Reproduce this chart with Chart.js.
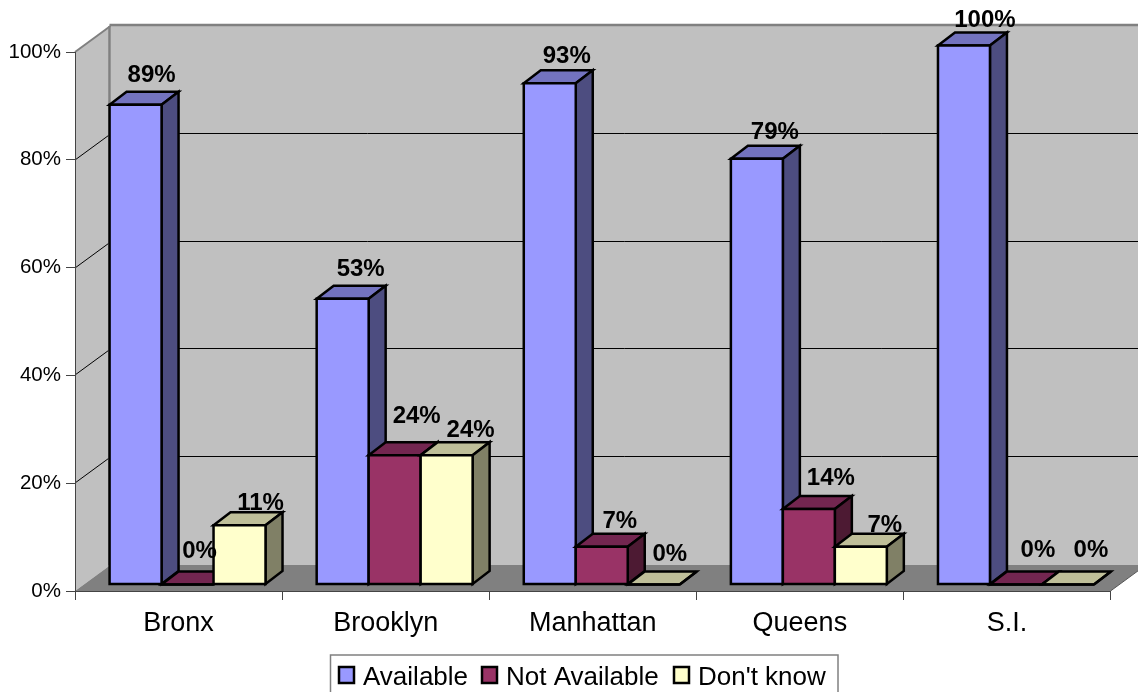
<!DOCTYPE html>
<html>
<head>
<meta charset="utf-8">
<style>
  html, body { margin: 0; padding: 0; background: #fff; }
  canvas { display: block; }
</style>
<script src="https://cdn.jsdelivr.net/npm/chart.js@4"></script>
</head>
<body>
<canvas id="myChart" width="1138" height="692"></canvas>
<script>
const categories = ["Bronx", "Brooklyn", "Manhattan", "Queens", "S.I."];
const available = [89, 53, 93, 79, 100];
const notAvailable = [0, 24, 7, 14, 0];
const dontKnow = [11, 24, 0, 7, 0];
const yTicks = [0, 20, 40, 60, 80, 100];

const FONT = '"Liberation Sans", Arial, sans-serif';

// 3d look: how far the back wall and the bars sit behind the axes
const wallDx = 35.5, wallDy = -26;
const barShiftX = 9, barShiftY = -6.5;
const depthX = 17, depthY = -13;

const faces = [
    { front: "#9999FF", top: "#7373BF", side: "#4D4D80", labelX: 17, labelY: -16 },
    { front: "#993366", top: "#732650", side: "#4D1A33", labelX: 20, labelY: -22 },
    { front: "#FFFFCC", top: "#BFBF99", side: "#808066", labelX: 22, labelY: -14 },
];

// the original places its value labels a bit unevenly
const labelNudge = [
    [[-1, 0], [1, 0], [0, 2], [1, 3], [4, 4]],
    [[-8, 2], [2, -4], [-2, 10], [2, 4], [2, 1]],
    [[-1, 5], [2, 2], [-6, -3], [2, 6], [1, -7]],
];

function poly(ctx, pts, fill, stroke, lw) {
    ctx.beginPath();
    pts.forEach((p, i) => i ? ctx.lineTo(p[0], p[1]) : ctx.moveTo(p[0], p[1]));
    ctx.closePath();
    if (fill) { ctx.fillStyle = fill; ctx.fill(); }
    if (stroke) { ctx.strokeStyle = stroke; ctx.lineWidth = lw; ctx.stroke(); }
}

function line(ctx, x1, y1, x2, y2, color, lw) {
    ctx.beginPath();
    ctx.moveTo(x1, y1);
    ctx.lineTo(x2, y2);
    ctx.strokeStyle = color;
    ctx.lineWidth = lw;
    ctx.stroke();
}

const box3d = {
    id: "box3d",
    // walls and floor go under the axes
    beforeDraw(chart) {
        const ctx = chart.ctx, a = chart.chartArea, y = chart.scales.y;
        const far = chart.width + 20;
        ctx.save();
        const x0 = a.left + wallDx, top = a.top + wallDy, bot = a.bottom + wallDy;
        poly(ctx, [[x0, top], [far, top], [far, bot], [x0, bot]], "#C0C0C0");
        poly(ctx, [[a.left, a.top], [x0, top], [x0, bot], [a.left, a.bottom]], "#C0C0C0");
        poly(ctx, [[a.left, a.bottom], [x0, bot], [a.right + wallDx, bot], [a.right, a.bottom]], "#808080");
        line(ctx, a.right, a.bottom, a.right + wallDx, bot, "#555", 1);
        line(ctx, a.left, a.bottom + 0.5, a.right, a.bottom + 0.5, "#555", 1);
        yTicks.forEach(v => {
            if (v === 0 || v === 100) return;
            const p = Math.round(y.getPixelForValue(v));
            line(ctx, a.left, p, x0, p + wallDy, "#000", 1);
            line(ctx, x0, p + wallDy - 0.5, far, p + wallDy - 0.5, "#000", 1);
        });
        line(ctx, a.left, a.top, x0, top, "#808080", 2);
        line(ctx, x0 - 1, top - 1, far, top - 1, "#808080", 2.5);
        line(ctx, x0 - 1, top, x0 - 1, bot, "#808080", 2.5);
        ctx.restore();
    },
    // the library paints last dataset first, the boxes need left to right,
    // so its pass is skipped and the datasets are painted in afterDatasetsDraw
    beforeDatasetDraw() {
        return false;
    },
    afterDatasetsDraw(chart) {
        const ctx = chart.ctx;
        ctx.save();
        ctx.translate(barShiftX, barShiftY);
        ctx.lineJoin = "miter";
        chart.data.datasets.forEach((ds, i) => {
            const meta = chart.getDatasetMeta(i), f = faces[i];
            meta.data.forEach(bar => {
                const l = bar.x - bar.width / 2, r = bar.x + bar.width / 2;
                const t = bar.y, b = bar.base;
                poly(ctx, [[l, t], [l + depthX, t + depthY], [r + depthX, t + depthY], [r, t]], f.top, "#000", 2.5);
                poly(ctx, [[r, t], [r + depthX, t + depthY], [r + depthX, b + depthY], [r, b]], f.side, "#000", 2.5);
            });
            meta.controller.draw();
            meta.data.forEach(bar => {
                const l = bar.x - bar.width / 2, r = bar.x + bar.width / 2;
                poly(ctx, [[l, bar.y], [r, bar.y], [r, bar.base], [l, bar.base]], null, "#000", 2.5);
            });
        });
        ctx.restore();

        ctx.save();
        ctx.font = "bold 24px " + FONT;
        ctx.fillStyle = "#000";
        ctx.textAlign = "center";
        ctx.textBaseline = "middle";
        chart.data.datasets.forEach((ds, i) => {
            chart.getDatasetMeta(i).data.forEach((bar, j) => {
                const x = bar.x + barShiftX + faces[i].labelX + labelNudge[i][j][0];
                const y = bar.y + barShiftY + depthY + faces[i].labelY + labelNudge[i][j][1];
                ctx.fillText(ds.data[j] + "%", x, y);
            });
        });
        ctx.restore();
    },
    // legend frame runs off the bottom of the picture in the original
    afterDraw(chart) {
        const ctx = chart.ctx;
        ctx.save();
        ctx.strokeStyle = "#808080";
        ctx.lineWidth = 1.5;
        ctx.strokeRect(330.5, 655, 507.5, 60);
        const xs = [[338, 363], [481, 506], [673, 698]];
        ctx.font = "26px " + FONT;
        ctx.textAlign = "left";
        ctx.textBaseline = "alphabetic";
        chart.data.datasets.forEach((ds, i) => {
            ctx.fillStyle = faces[i].front;
            ctx.fillRect(xs[i][0] + 1, 667, 15, 16);
            ctx.strokeStyle = "#000";
            ctx.lineWidth = 2.5;
            ctx.strokeRect(xs[i][0] + 1, 667, 15, 16);
            ctx.fillStyle = "#000";
            ctx.fillText(ds.label, xs[i][1], 685);
        });
        ctx.restore();
    },
};

const ctx = document.getElementById("myChart").getContext("2d");
new Chart(ctx, {
    type: "bar",
    data: {
        labels: categories,
        datasets: [
            { label: "Available", data: available, backgroundColor: faces[0].front },
            { label: "Not Available", data: notAvailable, backgroundColor: faces[1].front },
            { label: "Don't know", data: dontKnow, backgroundColor: faces[2].front },
        ],
    },
    options: {
        responsive: false,
        animation: false,
        events: [],
        layout: { padding: { top: 52, right: 27.5, left: 0, bottom: 0 } },
        datasets: {
            bar: {
                clip: false,
                borderWidth: 0,
                barPercentage: 1,
                categoryPercentage: 0.753,
            },
        },
        plugins: { legend: { display: false }, tooltip: { enabled: false } },
        scales: {
            x: {
                afterFit(s) { s.height = 101; },
                grid: { drawOnChartArea: false, tickLength: 9, tickColor: "#444" },
                border: { color: "#444" },
                ticks: { font: { family: FONT, size: 27 }, color: "#000", padding: 7, maxRotation: 0 },
            },
            y: {
                min: 0,
                max: 100,
                afterFit(s) { s.width = 75; },
                afterBuildTicks(s) { s.ticks = yTicks.map(v => ({ value: v })); },
                grid: { drawOnChartArea: false, tickLength: 9, tickColor: "#444" },
                border: { color: "#444" },
                ticks: {
                    font: { family: FONT, size: 20.5 },
                    color: "#000",
                    padding: 5,
                    callback: v => v + "%",
                },
            },
        },
    },
    plugins: [box3d],
});
</script>
</body>
</html>
